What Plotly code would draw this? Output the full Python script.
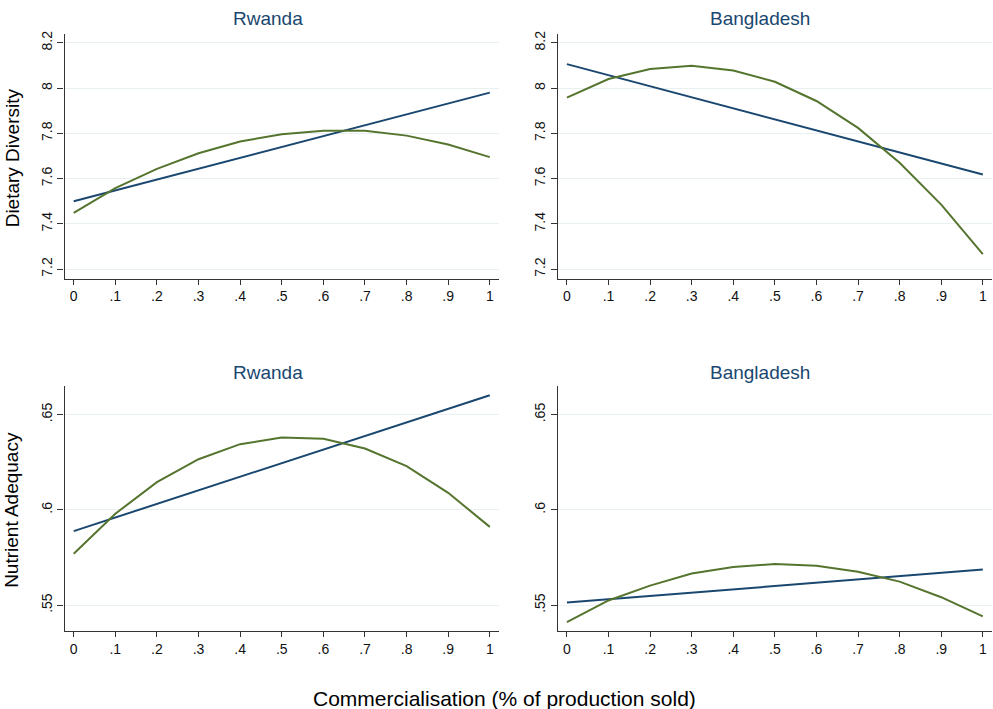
import plotly.graph_objects as go

# ---- data ----
x_vals = [0, 0.1, 0.2, 0.3, 0.4, 0.5, 0.6, 0.7, 0.8, 0.9, 1.0]
x_ticktext = ["0", ".1", ".2", ".3", ".4", ".5", ".6", ".7", ".8", ".9", "1"]

# Dietary Diversity
rw_dd_linear = [7.500, 7.548, 7.596, 7.644, 7.692, 7.740, 7.788, 7.836, 7.884, 7.932, 7.980]
rw_dd_quad = [7.449, 7.558, 7.643, 7.712, 7.764, 7.796, 7.812, 7.811, 7.790, 7.751, 7.695]
bd_dd_linear = [8.106, 8.057, 8.008, 7.960, 7.911, 7.862, 7.813, 7.764, 7.716, 7.667, 7.618]
bd_dd_quad = [7.958, 8.040, 8.084, 8.099, 8.078, 8.028, 7.943, 7.824, 7.670, 7.485, 7.266]

# Nutrient Adequacy
rw_na_linear = [0.5889, 0.5960, 0.6032, 0.6103, 0.6174, 0.6246, 0.6317, 0.6388, 0.6460, 0.6531, 0.6602]
rw_na_quad = [0.5770, 0.5980, 0.6146, 0.6266, 0.6345, 0.6380, 0.6373, 0.6322, 0.6230, 0.6090, 0.5911]
bd_na_linear = [0.5514, 0.5531, 0.5549, 0.5566, 0.5583, 0.5601, 0.5618, 0.5635, 0.5652, 0.5670, 0.5687]
bd_na_quad = [0.5411, 0.5525, 0.5603, 0.5666, 0.5701, 0.5716, 0.5707, 0.5676, 0.5624, 0.5542, 0.5441]

dd_tickvals = [7.2, 7.4, 7.6, 7.8, 8.0, 8.2]
dd_ticktext = ["7.2", "7.4", "7.6", "7.8", "8", "8.2"]
na_tickvals = [0.55, 0.60, 0.65]
na_ticktext = [".55", ".6", ".65"]

panel_titles = ["Rwanda", "Bangladesh", "Rwanda", "Bangladesh"]
y_titles = ["Dietary Diversity", "Nutrient Adequacy"]
x_title = "Commercialisation (% of production sold)"

NAVY = "#1a476f"
GREEN = "#55752f"
FONT = "Arial, Liberation Sans, sans-serif"

W, H = 993, 709

fig = go.Figure()

panels = [
    ("x", "y", rw_dd_linear, rw_dd_quad),
    ("x2", "y2", bd_dd_linear, bd_dd_quad),
    ("x3", "y3", rw_na_linear, rw_na_quad),
    ("x4", "y4", bd_na_linear, bd_na_quad),
]
for xa, ya, lin, quad in panels:
    fig.add_trace(go.Scatter(x=x_vals, y=lin, mode="lines", xaxis=xa, yaxis=ya,
                             line=dict(color=NAVY, width=2), showlegend=False))
    fig.add_trace(go.Scatter(x=x_vals, y=quad, mode="lines", xaxis=xa, yaxis=ya,
                             line=dict(color=GREEN, width=2), showlegend=False))

xdom_left = [64.5 / W, 499.0 / W]
xdom_right = [557.7 / W, 992.0 / W]
ydom_top = [1 - 276.7 / H, 1 - 31.0 / H]
ydom_bot = [1 - 631.0 / H, 1 - 384.3 / H]

def xax(domain, anchor):
    return dict(domain=domain, anchor=anchor, range=[-0.0221, 1.0221],
                tickvals=x_vals, ticktext=x_ticktext, ticks="outside", ticklen=5,
                tickwidth=1, tickcolor="#333333", showline=True, linecolor="#333333",
                linewidth=1.3, showgrid=False, zeroline=False,
                tickfont=dict(family=FONT, size=14, color="#111111"))

def yax(domain, anchor, rng, tv, tt):
    return dict(domain=domain, anchor=anchor, range=rng, tickvals=tv, ticktext=tt,
                ticks="outside", ticklen=6, tickwidth=1, tickcolor="#333333",
                showline=True, linecolor="#333333", linewidth=1.3,
                showgrid=True, gridcolor="#e9f0f1", gridwidth=1, zeroline=False,
                tickangle=-90, tickfont=dict(family=FONT, size=14, color="#111111"))

dd_range = [7.1586, 8.2396]
na_range = [0.5363, 0.6652]

fig.update_layout(
    width=W, height=H,
    margin=dict(l=0, r=0, t=0, b=0),
    paper_bgcolor="white", plot_bgcolor="white",
    xaxis=xax(xdom_left, "y"),
    yaxis=yax(ydom_top, "x", dd_range, dd_tickvals, dd_ticktext),
    xaxis2=xax(xdom_right, "y2"),
    yaxis2=yax(ydom_top, "x2", dd_range, dd_tickvals, dd_ticktext),
    xaxis3=xax(xdom_left, "y3"),
    yaxis3=yax(ydom_bot, "x3", na_range, na_tickvals, na_ticktext),
    xaxis4=xax(xdom_right, "y4"),
    yaxis4=yax(ydom_bot, "x4", na_range, na_tickvals, na_ticktext),
)

ann = []
title_pos = [(268, 16), (760, 16), (268, 371), (760, 371)]
for t, (px, py) in zip(panel_titles, title_pos):
    ann.append(dict(text=t, x=px / W, y=1 - py / H, xref="paper", yref="paper",
                    xanchor="center", yanchor="middle", showarrow=False,
                    font=dict(family=FONT, size=19, color=NAVY)))
for t, py in zip(y_titles, [156, 509]):
    ann.append(dict(text=t, x=12 / W, y=1 - py / H, xref="paper", yref="paper",
                    xanchor="center", yanchor="middle", showarrow=False, textangle=-90,
                    font=dict(family=FONT, size=19, color="#000000")))
ann.append(dict(text=x_title, x=504 / W, y=1 - 698 / H, xref="paper", yref="paper",
                xanchor="center", yanchor="middle", showarrow=False,
                font=dict(family=FONT, size=21, color="#000000")))
fig.update_layout(annotations=ann)

fig.write_html(
    "out.html",
    config={"displayModeBar": False},
    post_script="document.body.style.margin='0';document.body.style.overflow='hidden';",
)
